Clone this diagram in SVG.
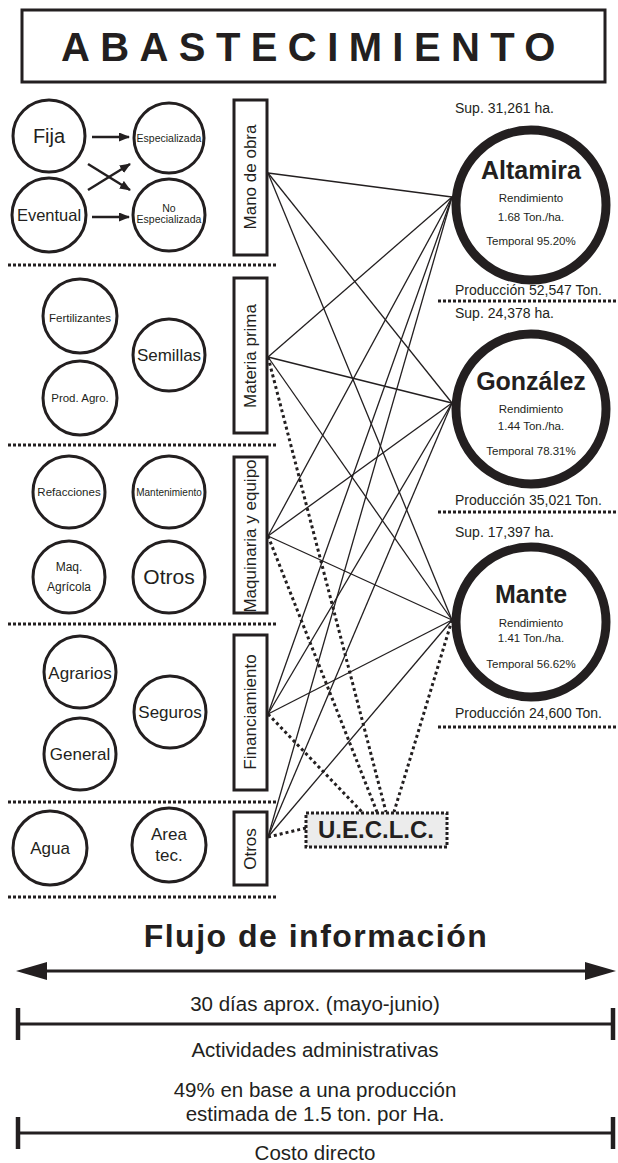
<svg xmlns="http://www.w3.org/2000/svg" width="618" height="1163" viewBox="0 0 618 1163">
<style>
text{font-family:"Liberation Sans",Arial,sans-serif;fill:#231f20}
.c{fill:#fff;stroke:#231f20;stroke-width:3}
.city{fill:#fff;stroke:#231f20;stroke-width:9}
.box{fill:#fff;stroke:#231f20;stroke-width:3}
.sep{stroke:#231f20;stroke-width:3;stroke-dasharray:3 2;fill:none}
.ln{stroke:#231f20;stroke-width:1.3;fill:none}
.dt{stroke:#231f20;stroke-width:3;stroke-dasharray:3 3;fill:none}
.ar{stroke:#231f20;stroke-width:2.5;fill:none;marker-end:url(#ah)}
.m{text-anchor:middle}
.vt{font-size:17px;text-anchor:middle}
.sm{font-size:11.5px;text-anchor:middle}
.md{font-size:17px;text-anchor:middle}
.cn{font-size:25px;font-weight:bold;text-anchor:middle}
.ci{font-size:11.5px;text-anchor:middle}
.lb{font-size:14px}
.bt{font-size:20.5px;text-anchor:middle}
.bar{stroke:#231f20;stroke-width:3}
.tk{stroke:#231f20;stroke-width:4.5}
</style>
<defs>
<marker id="ah" markerUnits="userSpaceOnUse" markerWidth="11" markerHeight="9" refX="10" refY="4.5" orient="auto"><path d="M0,0 L11,4.5 L0,9 z" fill="#231f20"/></marker>
</defs>

<g id="title">
<rect x="22" y="10" width="583" height="72" fill="#fff" stroke="#231f20" stroke-width="3"/>
<text x="61" y="61" font-size="40" font-weight="bold" letter-spacing="10.4">ABASTECIMIENTO</text>
</g>

<g id="separators">
<line class="sep" x1="8" y1="265" x2="277" y2="265"/>
<line class="sep" x1="8" y1="445" x2="277" y2="445"/>
<line class="sep" x1="8" y1="624" x2="277" y2="624"/>
<line class="sep" x1="8" y1="802" x2="277" y2="802"/>
<line class="sep" x1="8" y1="897" x2="277" y2="897"/>
<line class="sep" x1="438" y1="301" x2="618" y2="301"/>
<line class="sep" x1="438" y1="512" x2="618" y2="512"/>
<line class="sep" x1="438" y1="727" x2="618" y2="727"/>
</g>

<g id="connectors">
<line class="ln" x1="268" y1="173" x2="452" y2="197"/>
<line class="ln" x1="268" y1="173" x2="452" y2="403"/>
<line class="ln" x1="268" y1="173" x2="452" y2="620"/>
<line class="ln" x1="268" y1="357" x2="452" y2="197"/>
<line class="ln" x1="268" y1="357" x2="452" y2="403"/>
<line class="ln" x1="268" y1="357" x2="452" y2="620"/>
<line class="ln" x1="268" y1="536" x2="452" y2="197"/>
<line class="ln" x1="268" y1="536" x2="452" y2="403"/>
<line class="ln" x1="268" y1="536" x2="452" y2="620"/>
<line class="ln" x1="268" y1="714" x2="452" y2="197"/>
<line class="ln" x1="268" y1="714" x2="452" y2="403"/>
<line class="ln" x1="268" y1="714" x2="452" y2="620"/>
<line class="ln" x1="268" y1="837" x2="452" y2="197"/>
<line class="ln" x1="268" y1="837" x2="452" y2="403"/>
<line class="ln" x1="268" y1="837" x2="452" y2="620"/>
<line class="dt" x1="268" y1="357" x2="386" y2="812"/>
<line class="dt" x1="268" y1="536" x2="377" y2="812"/>
<line class="dt" x1="268" y1="714" x2="362" y2="812"/>
<line class="dt" x1="452" y1="620" x2="394" y2="812"/>
<line class="dt" x1="268" y1="837" x2="306" y2="828"/>
<line class="ar" x1="92" y1="137" x2="129" y2="137"/>
<line class="ar" x1="92" y1="217" x2="129" y2="217"/>
<line class="ar" x1="88" y1="164" x2="130" y2="190"/>
<line class="ar" x1="88" y1="190" x2="130" y2="164"/>
</g>

<g id="n-fija"><circle class="c" cx="49" cy="136" r="36"/><text class="m" x="49" y="143" font-size="20">Fija</text></g>
<g id="n-eventual"><circle class="c" cx="49" cy="215" r="37"/><text class="m" x="49" y="221" font-size="16.5">Eventual</text></g>
<g id="n-especializada"><circle class="c" cx="169" cy="138" r="35"/><text class="m" x="169" y="142" font-size="10.5">Especializada</text></g>
<g id="n-noesp"><circle class="c" cx="169" cy="215" r="36"/><text class="m" x="169" y="212" font-size="10.5">No</text><text class="m" x="169" y="223" font-size="10.5">Especializada</text></g>
<g id="b-mano"><rect class="box" x="234" y="100" width="33" height="155"/><text class="vt" transform="translate(250,177) rotate(-90)" y="6">Mano de obra</text></g>

<g id="n-fert"><circle class="c" cx="80" cy="316" r="37"/><text class="sm" x="80" y="322">Fertilizantes</text></g>
<g id="n-prod"><circle class="c" cx="80" cy="398" r="37"/><text class="sm" x="80" y="402">Prod. Agro.</text></g>
<g id="n-semillas"><circle class="c" cx="169" cy="355" r="36"/><text class="md" x="169" y="361">Semillas</text></g>
<g id="b-materia"><rect class="box" x="234" y="278" width="33" height="155"/><text class="vt" transform="translate(250,356) rotate(-90)" y="6">Materia prima</text></g>

<g id="n-refac"><circle class="c" cx="69" cy="492" r="36"/><text class="sm" x="69" y="496">Refacciones</text></g>
<g id="n-mant"><circle class="c" cx="169" cy="492" r="36"/><text class="m" x="169" y="496" font-size="10">Mantenimiento</text></g>
<g id="n-maq"><circle class="c" cx="69" cy="577" r="36"/><text class="m" x="69" y="571" font-size="12">Maq.</text><text class="m" x="69" y="591" font-size="12">Agrícola</text></g>
<g id="n-otros1"><circle class="c" cx="169" cy="577" r="36"/><text class="m" x="169" y="584" font-size="21">Otros</text></g>
<g id="b-maquinaria"><rect class="box" x="234" y="457" width="33" height="156"/><text class="vt" transform="translate(250,536) rotate(-90)" y="6">Maquinaria y equipo</text></g>

<g id="n-agrarios"><circle class="c" cx="80" cy="672" r="36"/><text class="md" x="80" y="679">Agrarios</text></g>
<g id="n-general"><circle class="c" cx="80" cy="754" r="36"/><text class="md" x="80" y="760">General</text></g>
<g id="n-seguros"><circle class="c" cx="170" cy="712" r="36"/><text class="md" x="170" y="718">Seguros</text></g>
<g id="b-fin"><rect class="box" x="234" y="635" width="33" height="155"/><text class="vt" transform="translate(250,712) rotate(-90)" y="6">Financiamiento</text></g>

<g id="n-agua"><circle class="c" cx="50" cy="848" r="37"/><text class="md" x="50" y="854">Agua</text></g>
<g id="n-area"><circle class="c" cx="169" cy="845" r="37"/><text class="md" x="169" y="840">Area</text><text class="md" x="169" y="861">tec.</text></g>
<g id="b-otros"><rect class="box" x="234" y="812" width="33" height="73"/><text class="vt" transform="translate(250,849) rotate(-90)" y="6">Otros</text></g>

<g id="n-ueclc"><rect x="306" y="813" width="141" height="34" fill="#ececec" stroke="#231f20" stroke-width="3" stroke-dasharray="3 2"/><text class="m" x="376" y="838" font-size="24" font-weight="bold">U.E.C.L.C.</text></g>

<g id="n-altamira">
<text class="lb" x="455" y="113">Sup. 31,261 ha.</text>
<circle class="city" cx="531" cy="205" r="75"/>
<text class="cn" x="531" y="179">Altamira</text>
<text class="ci" x="531" y="202">Rendimiento</text>
<text class="ci" x="531" y="221">1.68 Ton./ha.</text>
<text class="ci" x="531" y="245">Temporal 95.20%</text>
<text class="lb" x="455" y="295">Producción 52,547 Ton.</text>
</g>
<g id="n-gonzalez">
<text class="lb" x="455" y="318">Sup. 24,378 ha.</text>
<circle class="city" cx="531" cy="409" r="75"/>
<text class="cn" x="531" y="390">González</text>
<text class="ci" x="531" y="413">Rendimiento</text>
<text class="ci" x="531" y="430">1.44 Ton./ha.</text>
<text class="ci" x="531" y="455">Temporal 78.31%</text>
<text class="lb" x="455" y="505">Producción 35,021 Ton.</text>
</g>
<g id="n-mante">
<text class="lb" x="455" y="537">Sup. 17,397 ha.</text>
<circle class="city" cx="531" cy="622" r="75"/>
<text class="cn" x="531" y="603">Mante</text>
<text class="ci" x="531" y="627">Rendimiento</text>
<text class="ci" x="531" y="642">1.41 Ton./ha.</text>
<text class="ci" x="531" y="668">Temporal 56.62%</text>
<text class="lb" x="455" y="718">Producción 24,600 Ton.</text>
</g>

<g id="flujo">
<text class="m" x="316" y="947" font-size="32" font-weight="bold" letter-spacing="1.5">Flujo de información</text>
<line class="bar" x1="40" y1="971" x2="592" y2="971"/>
<polygon points="16,971 47,962 47,980" fill="#231f20"/>
<polygon points="616,971 585,962 585,980" fill="#231f20"/>
<text class="bt" x="315" y="1011">30 días aprox. (mayo-junio)</text>
<line class="bar" x1="18" y1="1024" x2="613" y2="1024"/>
<line class="tk" x1="18" y1="1008" x2="18" y2="1040"/>
<line class="tk" x1="613" y1="1008" x2="613" y2="1040"/>
<text class="bt" x="315" y="1057">Actividades administrativas</text>
<text class="bt" x="315" y="1097">49% en base a una producción</text>
<text class="bt" x="315" y="1121">estimada de 1.5 ton. por Ha.</text>
<line class="bar" x1="18" y1="1133" x2="613" y2="1133"/>
<line class="tk" x1="18" y1="1117" x2="18" y2="1149"/>
<line class="tk" x1="613" y1="1117" x2="613" y2="1149"/>
<text class="bt" x="315" y="1160">Costo directo</text>
</g>
</svg>
